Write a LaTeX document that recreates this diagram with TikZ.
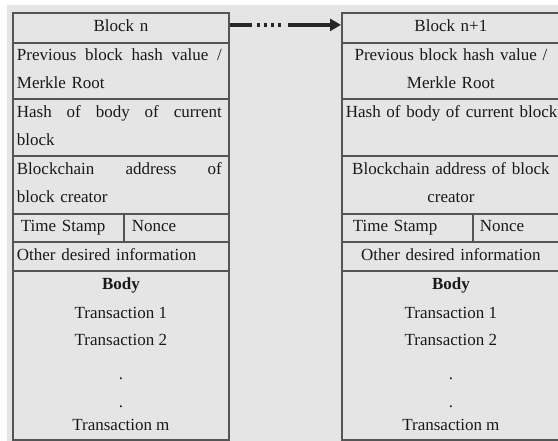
\documentclass[tikz,border=0pt]{standalone}
\usepackage{fontspec}
\setmainfont{Liberation Serif}
\usetikzlibrary{arrows.meta}

\definecolor{paper}{RGB}{229,229,229}
\definecolor{rulegray}{RGB}{85,85,85}
\definecolor{ink}{RGB}{25,25,25}

% strut giving every text line the same height and depth
\newcommand\cellstrut{\rule[-4pt]{0pt}{12.5pt}}
% a justified line: words spread over the full column width
\newcommand\fullline[1]{\hbox to 205pt{#1}}

\tikzset{
  cell/.style={draw=rulegray, line width=1.8pt, fill=paper, anchor=north west,
    inner xsep=4pt, inner ysep=0pt, text=ink,
    font=\fontsize{17}{28}\selectfont,
    execute at begin node=\cellstrut, execute at end node=\cellstrut},
  lcell/.style={cell, align=left, text width=208pt, minimum width=216pt},
  rcell/.style={cell, align=center, text width=210pt, minimum width=218pt},
  bodytxt/.style={anchor=base, inner sep=0pt, text=ink,
    font=\fontsize{17}{28}\selectfont},
  link/.style={draw=black!85, line width=3.5pt, line cap=butt,
    dash pattern=on 22pt off 5pt on 3pt off 4pt on 3pt off 4pt on 3pt off 4pt on 3pt off 7pt on 200pt,
    -{Triangle[length=11pt,width=12pt]}}
}

\begin{document}
\begin{tikzpicture}[x=1pt, y=-1pt]
  \useasboundingbox (0,0) rectangle (558,441);
  \fill[white] (0,0) rectangle (558,441);
  \fill[paper] (7,5) rectangle (558,441);

  % ---- Block n ----
  \node[lcell, align=center, minimum height=30pt] (Lhdr) at (12,12) {Block n};
  \node[lcell, minimum height=56pt] (Lprev) at (12,42)
    {\fullline{Previous\hfill block\hfill hash\hfill value\hfill /}\\Merkle Root};
  \node[lcell, minimum height=57pt] (Lhash) at (12,98)
    {\fullline{Hash\hfill of\hfill body\hfill of\hfill current}\\block};
  \node[lcell, minimum height=58pt] (Laddr) at (12,155)
    {\fullline{Blockchain\hfill address\hfill of}\\block creator};
  \node[cell, align=left, inner xsep=8pt, text width=95pt, minimum width=111pt,
        minimum height=28pt] (Lts) at (12,213) {Time Stamp};
  \node[cell, align=left, inner xsep=8pt, text width=89pt, minimum width=105pt,
        minimum height=28pt] (Lnonce) at (123,213) {Nonce};
  \node[lcell, minimum height=29pt] (Lother) at (12,241) {Other desired information};
  \node[lcell, minimum height=169pt] (Lbody) at (12,270) {};
  \node[bodytxt] (Lbtitle) at (Lbody.north |- 0,290) {\bfseries Body};
  \node[bodytxt] (Lt1) at (Lbody.north |- 0,319) {Transaction 1};
  \node[bodytxt] (Lt2) at (Lbody.north |- 0,346) {Transaction 2};
  \node[bodytxt] (Ld1) at (Lbody.north |- 0,380) {.};
  \node[bodytxt] (Ld2) at (Lbody.north |- 0,408) {.};
  \node[bodytxt] (Ltm) at (Lbody.north |- 0,431) {Transaction m};

  % ---- Block n+1 ----
  \node[rcell, minimum height=30pt] (Rhdr) at (341,12) {Block n+1};
  \node[rcell, minimum height=56pt] (Rprev) at (341,42)
    {Previous block hash value /\\Merkle Root};
  \node[rcell, minimum height=57pt] (Rhash) at (341,98)
    {\mbox{Hash of body of current block}\\\mbox{}};
  \node[rcell, minimum height=58pt] (Raddr) at (341,155)
    {Blockchain address of block\\creator};
  \node[cell, align=left, inner xsep=11pt, text width=109pt, minimum width=131pt,
        minimum height=28pt] (Rts) at (341,213) {Time Stamp};
  \node[cell, align=left, inner xsep=7pt, text width=73pt, minimum width=87pt,
        minimum height=28pt] (Rnonce) at (472,213) {Nonce};
  \node[rcell, minimum height=29pt] (Rother) at (341,241) {Other desired information};
  \node[rcell, minimum height=169pt] (Rbody) at (341,270) {};
  \node[bodytxt] (Rbtitle) at (Rbody.north |- 0,290) {\bfseries Body};
  \node[bodytxt] (Rt1) at (Rbody.north |- 0,319) {Transaction 1};
  \node[bodytxt] (Rt2) at (Rbody.north |- 0,346) {Transaction 2};
  \node[bodytxt] (Rd1) at (Rbody.north |- 0,380) {.};
  \node[bodytxt] (Rd2) at (Rbody.north |- 0,408) {.};
  \node[bodytxt] (Rtm) at (Rbody.north |- 0,431) {Transaction m};

  % ---- chain link ----
  \draw[link] ([yshift=3pt]Lhdr.east) -- ([yshift=3pt]Rhdr.west);
\end{tikzpicture}
\end{document}
